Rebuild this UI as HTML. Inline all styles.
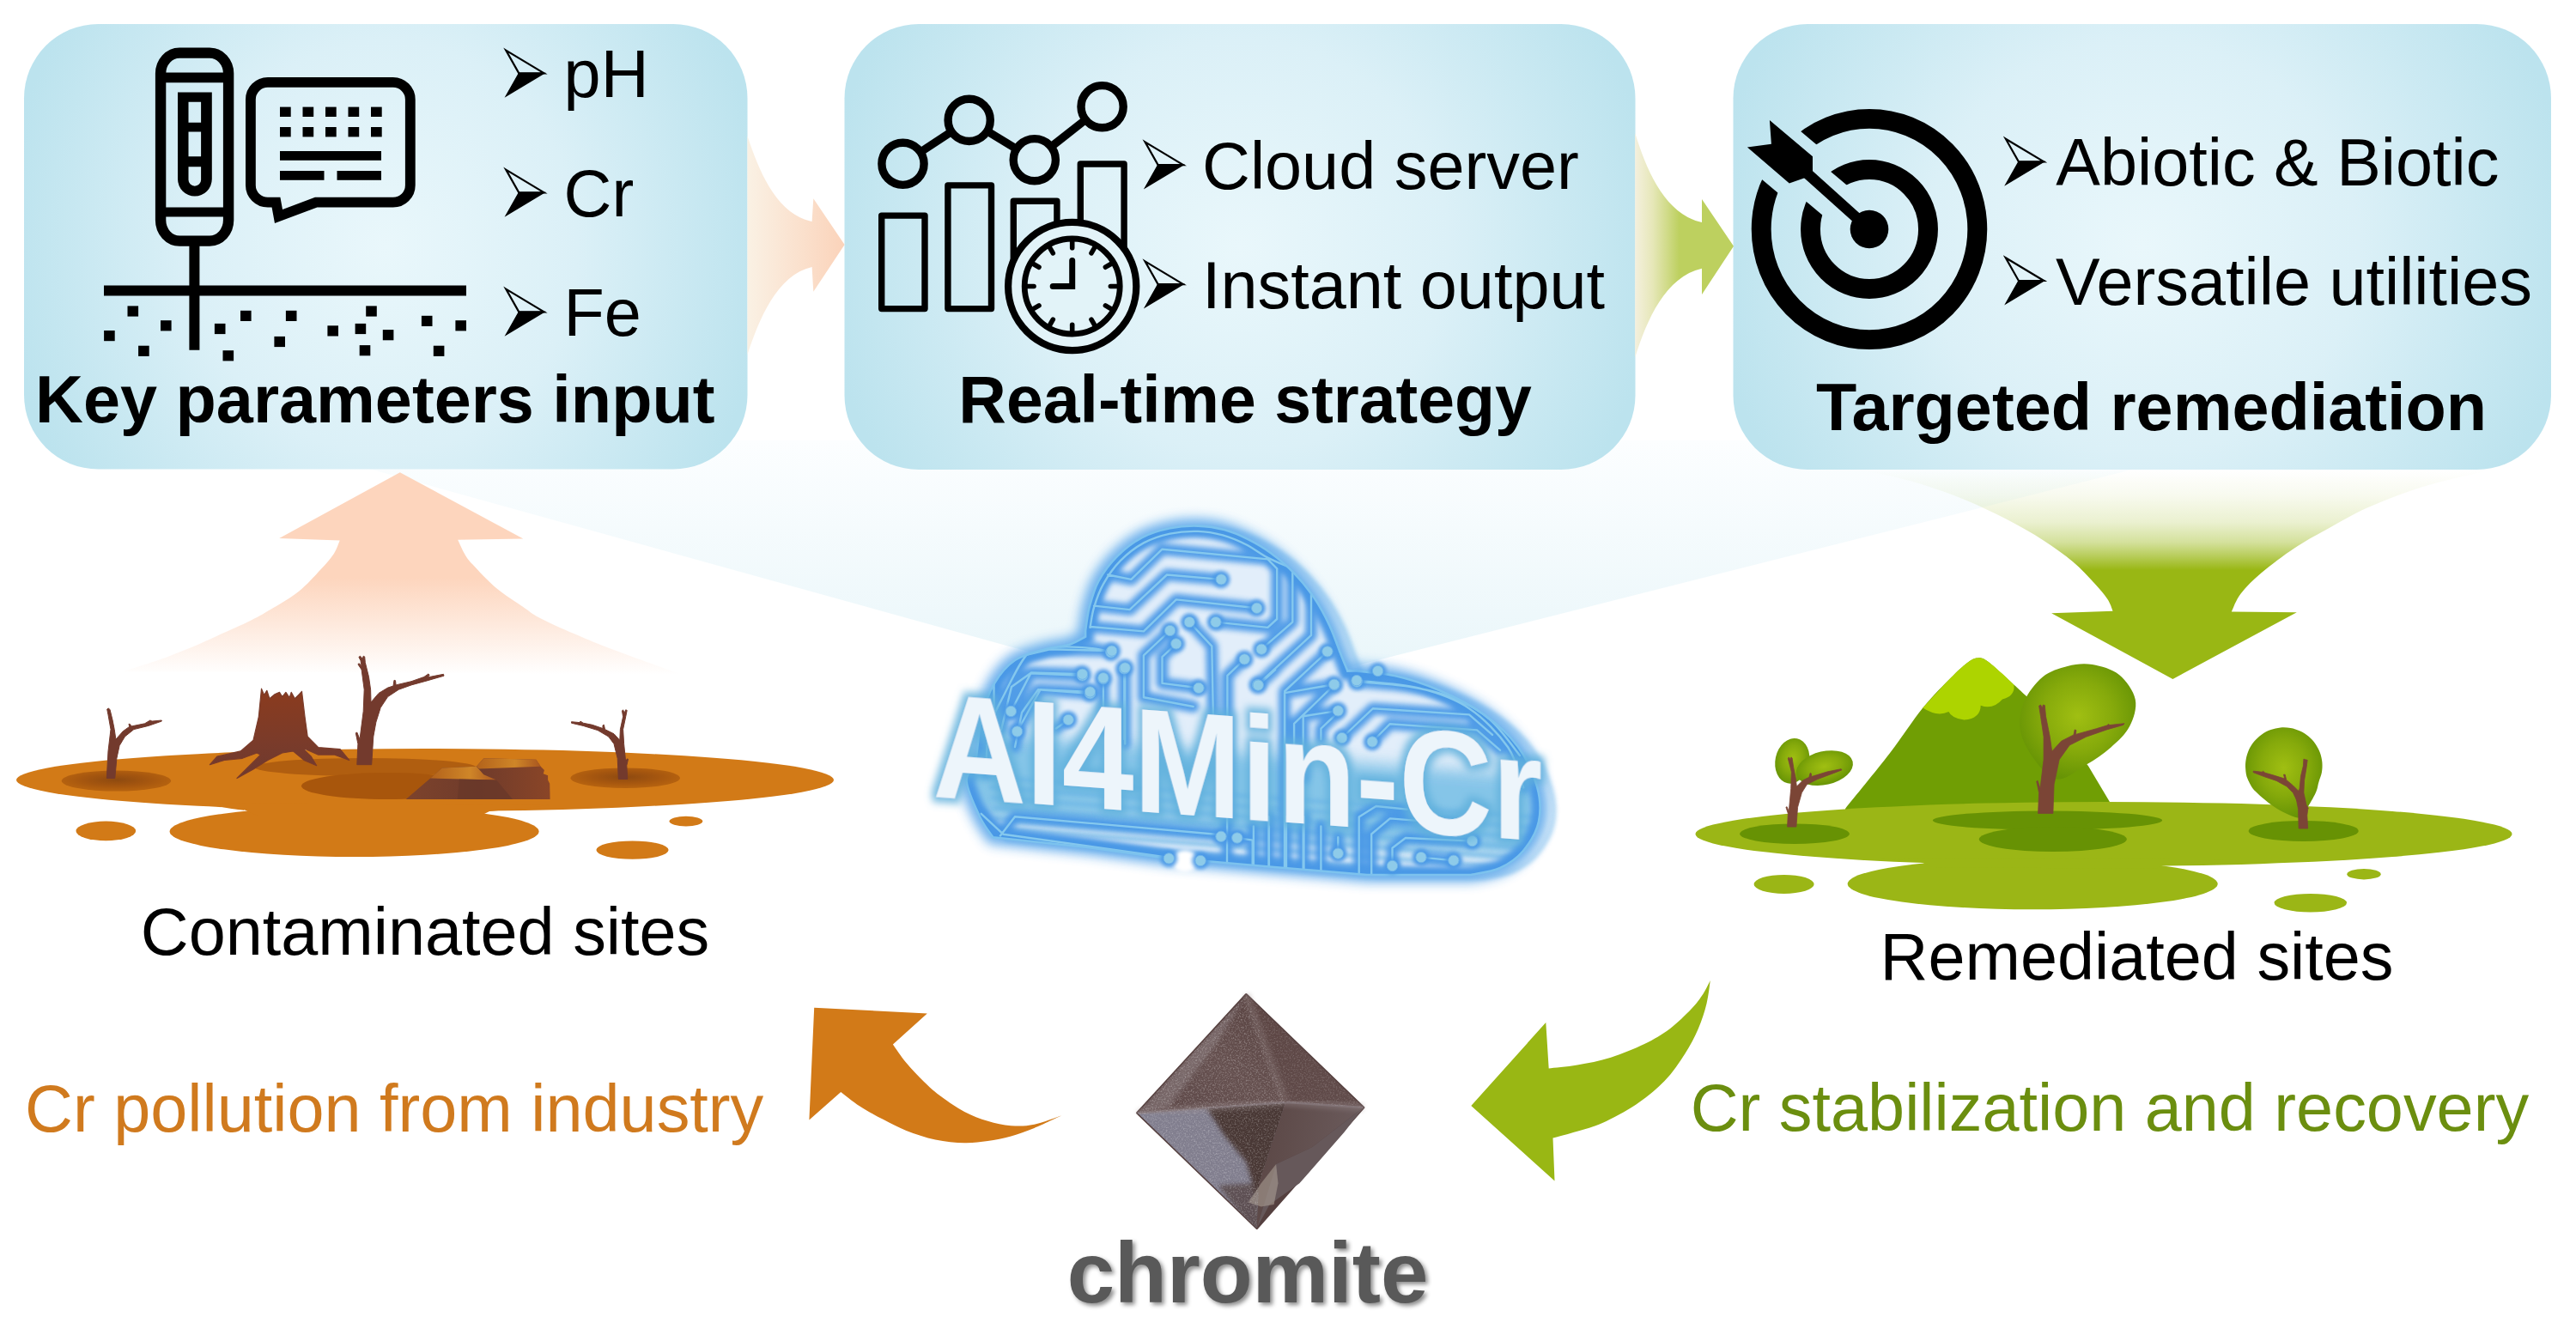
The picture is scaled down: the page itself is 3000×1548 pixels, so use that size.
<!DOCTYPE html>
<html lang="en"><head><meta charset="utf-8"><title>AI4Min-Cr graphical abstract</title>
<style>
html,body{margin:0;padding:0;background:#fff;}
body{width:3000px;height:1548px;overflow:hidden;}
svg{display:block;}
text{font-family:"Liberation Sans",sans-serif;}
.t{font-size:77.4px;fill:#000;}
.b{font-size:77.4px;font-weight:bold;fill:#000;}
</style></head><body>
<svg width="3000" height="1548" viewBox="0 0 3000 1548">
<!-- defs -->
<defs>
  <radialGradient id="boxg" cx="0.5" cy="0.5" r="0.53" gradientUnits="objectBoundingBox" gradientTransform="translate(0.5,0.5) scale(1,1.75) translate(-0.5,-0.5)">
    <stop offset="0" stop-color="#e9f7fb"/>
    <stop offset="0.5" stop-color="#dbf0f7"/>
    <stop offset="1" stop-color="#bce3ee"/>
  </radialGradient>
  <linearGradient id="peachR" x1="0" y1="0" x2="1" y2="0">
    <stop offset="0" stop-color="#faf1e4"/>
    <stop offset="1" stop-color="#fbd3ba"/>
  </linearGradient>
  <linearGradient id="greenR" x1="0" y1="0" x2="1" y2="0">
    <stop offset="0" stop-color="#f4f0de"/>
    <stop offset="0.18" stop-color="#e6e7b8"/>
    <stop offset="0.45" stop-color="#bdd05f"/>
    <stop offset="1" stop-color="#bdd05f"/>
  </linearGradient>
  <linearGradient id="peachUp" gradientUnits="userSpaceOnUse" x1="0" y1="550" x2="0" y2="786">
    <stop offset="0" stop-color="#fdd5bd"/>
    <stop offset="0.52" stop-color="#fdd5bd"/>
    <stop offset="1" stop-color="#fdd5bd" stop-opacity="0"/>
  </linearGradient>
  <linearGradient id="greenDown" gradientUnits="userSpaceOnUse" x1="0" y1="548" x2="0" y2="664">
    <stop offset="0" stop-color="#99b714" stop-opacity="0"/>
    <stop offset="0.25" stop-color="#99b714" stop-opacity="0.07"/>
    <stop offset="0.52" stop-color="#99b714" stop-opacity="0.2"/>
    <stop offset="0.72" stop-color="#99b714" stop-opacity="0.42"/>
    <stop offset="0.86" stop-color="#99b714" stop-opacity="0.7"/>
    <stop offset="1" stop-color="#99b714"/>
  </linearGradient>
  <linearGradient id="beamg" gradientUnits="userSpaceOnUse" x1="0" y1="513" x2="0" y2="818">
    <stop offset="0" stop-color="#fcfeff"/>
    <stop offset="1" stop-color="#e7f5f9"/>
  </linearGradient>
</defs>

<!-- beam -->
<polygon points="311,513 2617,513 1410,818" fill="url(#beamg)"/>

<!-- boxes -->
<rect x="28" y="28" width="842.5" height="518.5" rx="86.4" ry="86.4" fill="url(#boxg)"/>
<rect x="983.5" y="28" width="921" height="519" rx="86.4" ry="86.4" fill="url(#boxg)"/>
<rect x="2018.5" y="28" width="952.5" height="519" rx="86.4" ry="86.4" fill="url(#boxg)"/>

<!-- arrows -->
<!-- small peach arrow box1->box2 -->
<path d="M870.5,158.6 C884,200 905,250 945.6,258 L947.3,231.3 L983.6,285 L947.3,339.7 L945.6,311 C905,320 884,372 870.5,413 Z" fill="url(#peachR)"/>
<!-- small green arrow box2->box3 -->
<path d="M1904.2,155 C1918,200 1940,250 1982,259 L1982,232 L2019,286.7 L1982,343 L1982,312.7 C1940,322 1918,372 1904.2,416.5 Z" fill="url(#greenR)"/>
<!-- big peach up arrow -->
<path d="M465.8,550.2 L609.3,627.5 L533.2,628.8 C534.5,631.4 538.1,640.1 541.0,644.9 C543.8,649.7 544.1,650.6 550.3,657.3 C556.5,664.1 568.4,677.0 578.3,685.3 C588.1,693.6 601.0,701.3 609.3,707.0 C617.6,712.7 618.1,714.3 628.0,719.4 C637.8,724.6 655.4,732.4 668.3,738.1 C681.3,743.8 691.6,748.2 705.6,753.6 C719.6,759.0 737.7,765.4 752.2,770.7 C766.7,776.0 785.8,782.8 792.5,785.3 L143.5,782.2 C150.2,780.0 170.4,773.9 183.9,769.1 C197.3,764.4 212.3,758.5 224.2,753.6 C236.1,748.7 243.9,744.8 255.3,739.6 C266.7,734.5 282.2,727.7 292.5,722.5 C302.9,717.4 308.1,714.3 317.4,708.6 C326.7,702.9 339.1,695.9 348.4,688.4 C357.8,680.9 366.6,670.8 373.3,663.5 C380.0,656.3 385.1,650.6 388.8,644.9 C392.5,639.2 394.5,632.0 395.7,629.4 L325.2,626.9 Z" fill="url(#peachUp)"/>
<!-- big green down arrow -->
<path d="M2530.4,790.9 L2389.1,714.2 L2460.6,711.7 C2459.5,709.3 2458.0,703.1 2454.3,697.7 C2450.7,692.3 2445.5,686.3 2438.8,679.1 C2432.1,671.8 2423.8,662.5 2414.0,654.2 C2404.1,645.9 2392.8,637.7 2379.8,629.4 C2366.9,621.1 2351.3,612.3 2336.3,604.5 C2321.3,596.8 2305.3,589.3 2289.8,582.8 C2274.2,576.3 2258.7,570.6 2243.2,565.7 C2227.6,560.8 2210.0,556.3 2196.6,553.3 C2183.1,550.2 2168.1,548.4 2162.4,547.4 L2901.6,547.4 C2892.8,549.4 2865.3,555.2 2848.8,559.5 C2832.2,563.9 2817.7,568.0 2802.2,573.5 C2786.6,578.9 2771.1,584.9 2755.6,592.1 C2740.1,599.4 2723.0,609.2 2709.0,617.0 C2695.0,624.7 2684.2,630.4 2671.7,638.7 C2659.3,647.0 2644.8,657.8 2634.5,666.6 C2624.1,675.4 2615.6,683.8 2609.6,691.5 C2603.7,699.2 2600.6,709.1 2598.8,712.6 L2674.8,713.2 Z" fill="url(#greenDown)"/>

<!-- icon1 -->
<g fill="none" stroke="#000" stroke-width="12.4">
<rect x="187.1" y="61.6" width="79.0" height="219.0" rx="22" ry="24"/>
<line x1="187.1" y1="90.4" x2="266.1" y2="90.4" stroke-width="11.6"/>
<line x1="187.1" y1="247" x2="266.1" y2="247" stroke-width="11.2"/>
<line x1="226.4" y1="286" x2="226.4" y2="407.7" stroke-width="12"/>
<line x1="121" y1="338.5" x2="543" y2="338.5" stroke-width="12"/>
<path stroke-width="11.8" stroke-linejoin="miter" d="M311.9,95.9 H457.8 A20,20 0 0 1 477.8,115.9 V215.7 A20,20 0 0 1 457.8,235.7 H368 L324.5,252 L321.5,235.7 H311.9 A20,20 0 0 1 291.9,215.7 V115.9 A20,20 0 0 1 311.9,95.9 Z"/>
</g>
<g fill="#000">
<path fill-rule="evenodd" d="M207,107.6 H246.8 V208.6 A19.9,19.9 0 0 1 207,208.6 Z M219.5,118.7 H234.1 V142.8 H219.5 Z M219.5,153.5 H234.1 V182.3 H219.5 Z M219.5,194.2 H234.1 V209.4 A7.3,7.3 0 0 1 219.5,209.4 Z"/>
<rect x="326.0" y="124.6" width="12.7" height="11.4"/>
<rect x="352.5" y="124.6" width="12.7" height="11.4"/>
<rect x="379.0" y="124.6" width="12.7" height="11.4"/>
<rect x="405.5" y="124.6" width="12.7" height="11.4"/>
<rect x="432.0" y="124.6" width="12.7" height="11.4"/>
<rect x="326.0" y="148.0" width="12.7" height="11.4"/>
<rect x="352.5" y="148.0" width="12.7" height="11.4"/>
<rect x="379.0" y="148.0" width="12.7" height="11.4"/>
<rect x="405.5" y="148.0" width="12.7" height="11.4"/>
<rect x="432.0" y="148.0" width="12.7" height="11.4"/>
<rect x="326" y="176" width="118" height="10.8"/>
<rect x="326" y="199" width="51.5" height="10.8"/>
<rect x="392.5" y="199" width="51.5" height="10.8"/>
<rect x="148.5" y="356.4" width="12.6" height="12.2"/>
<rect x="187.0" y="373.2" width="12.6" height="12.2"/>
<rect x="121.1" y="385.0" width="12.6" height="12.2"/>
<rect x="161.1" y="402.7" width="12.6" height="12.2"/>
<rect x="249.9" y="376.9" width="12.6" height="12.2"/>
<rect x="280.0" y="361.8" width="12.6" height="12.2"/>
<rect x="259.5" y="408.2" width="12.6" height="12.2"/>
<rect x="332.9" y="361.8" width="12.6" height="12.2"/>
<rect x="319.4" y="391.9" width="12.6" height="12.2"/>
<rect x="426.2" y="356.4" width="12.6" height="12.2"/>
<rect x="381.4" y="379.3" width="12.6" height="12.2"/>
<rect x="413.6" y="376.9" width="12.6" height="12.2"/>
<rect x="445.8" y="384.1" width="12.6" height="12.2"/>
<rect x="418.7" y="402.1" width="12.6" height="12.2"/>
<rect x="490.9" y="367.8" width="12.6" height="12.2"/>
<rect x="530.4" y="373.2" width="12.6" height="12.2"/>
<rect x="504.8" y="402.7" width="12.6" height="12.2"/>
</g>
<!-- icon2 -->
<g fill="none" stroke="#000" stroke-linejoin="round" stroke-linecap="round">
<rect x="1026.7" y="251.1" width="50.3" height="108.5" stroke-width="7.4"/>
<rect x="1103.9" y="215.9" width="50.6" height="143.7" stroke-width="7.4"/>
<rect x="1180.3" y="234.3" width="50.6" height="125.3" stroke-width="7.4"/>
<rect x="1258.3" y="191.0" width="50.8" height="168.7" stroke-width="7.4"/>
<line x1="1072.0" y1="177.2" x2="1108.1" y2="153.4" stroke-width="9.4" stroke-linecap="butt"/>
<line x1="1149.7" y1="152.7" x2="1183.8" y2="173.4" stroke-width="9.4" stroke-linecap="butt"/>
<line x1="1224.1" y1="171.0" x2="1264.3" y2="139.4" stroke-width="9.4" stroke-linecap="butt"/>
<circle cx="1051.5" cy="190.8" r="24.6" stroke-width="9.4"/>
<circle cx="1128.7" cy="139.9" r="24.6" stroke-width="9.4"/>
<circle cx="1204.8" cy="186.2" r="24.6" stroke-width="9.4"/>
<circle cx="1283.6" cy="124.2" r="24.6" stroke-width="9.4"/>
<circle cx="1248.7" cy="333.5" r="74.6" stroke-width="8.2" fill="#e2f3f8"/>
<circle cx="1248.7" cy="333.5" r="55.5" stroke-width="6.8"/>
<line x1="1293.4" y1="333.5" x2="1301.8" y2="333.5" stroke-width="5.6"/>
<line x1="1287.4" y1="355.9" x2="1294.6" y2="360.1" stroke-width="5.6"/>
<line x1="1271.0" y1="372.2" x2="1275.2" y2="379.5" stroke-width="5.6"/>
<line x1="1248.7" y1="378.2" x2="1248.7" y2="386.6" stroke-width="5.6"/>
<line x1="1226.3" y1="372.2" x2="1222.1" y2="379.5" stroke-width="5.6"/>
<line x1="1210.0" y1="355.9" x2="1202.7" y2="360.1" stroke-width="5.6"/>
<line x1="1204.0" y1="333.5" x2="1195.6" y2="333.5" stroke-width="5.6"/>
<line x1="1210.0" y1="311.2" x2="1202.7" y2="307.0" stroke-width="5.6"/>
<line x1="1226.3" y1="294.8" x2="1222.1" y2="287.6" stroke-width="5.6"/>
<line x1="1248.7" y1="288.8" x2="1248.7" y2="280.4" stroke-width="5.6"/>
<line x1="1271.0" y1="294.8" x2="1275.2" y2="287.6" stroke-width="5.6"/>
<line x1="1287.4" y1="311.2" x2="1294.6" y2="307.0" stroke-width="5.6"/>
<path d="M1226.2,333.5 H1248.7 V303.5" stroke-width="7" stroke-linejoin="miter"/>
</g>
<!-- icon3 -->
<defs><mask id="tmask1" maskUnits="userSpaceOnUse" x="2000" y="100" width="360" height="340"><rect x="2000" y="100" width="360" height="340" fill="#fff"/><rect x="-260" y="-36" width="260" height="72" fill="#000" transform="translate(2177,267) rotate(40)"/></mask><mask id="tmask2" maskUnits="userSpaceOnUse" x="2000" y="100" width="360" height="340"><rect x="2000" y="100" width="360" height="340" fill="#fff"/><rect x="-260" y="-22.5" width="260" height="45" fill="#000" transform="translate(2177,267) rotate(40)"/></mask></defs>
<ellipse cx="2177" cy="267" rx="125.8" ry="128.6" stroke-width="22.9" fill="none" stroke="#000" mask="url(#tmask1)"/>
<ellipse cx="2177" cy="267" rx="68.5" ry="69.5" stroke-width="22.9" fill="none" stroke="#000" mask="url(#tmask2)"/>
<circle cx="2177" cy="267" r="22.3" fill="#000"/>
<line x1="2177" y1="267" x2="2098" y2="196" stroke="#000" stroke-width="12.5"/>
<polygon points="2060.9,140.1 2111,182.2 2111,203.9 2083.8,213.5 2034.9,171.4 2062.9,167.8" fill="#000"/>
<!-- text_top -->
<path d="M589.2,58.6 L633.7,85.3 L604.3,85.3 Z" fill="none" stroke="#000" stroke-width="2.2" stroke-linejoin="miter"/><path d="M604.3,85.3 L633.7,85.3 L589.2,112.0 Z" fill="#000" stroke="#000" stroke-width="1.2"/>
<path d="M589.2,197.6 L633.7,224.3 L604.3,224.3 Z" fill="none" stroke="#000" stroke-width="2.2" stroke-linejoin="miter"/><path d="M604.3,224.3 L633.7,224.3 L589.2,251.0 Z" fill="#000" stroke="#000" stroke-width="1.2"/>
<path d="M589.2,336.6 L633.7,363.3 L604.3,363.3 Z" fill="none" stroke="#000" stroke-width="2.2" stroke-linejoin="miter"/><path d="M604.3,363.3 L633.7,363.3 L589.2,390.0 Z" fill="#000" stroke="#000" stroke-width="1.2"/>
<path d="M1333.5,165.4 L1378.0,192.1 L1348.6,192.1 Z" fill="none" stroke="#000" stroke-width="2.2" stroke-linejoin="miter"/><path d="M1348.6,192.1 L1378.0,192.1 L1333.5,218.8 Z" fill="#000" stroke="#000" stroke-width="1.2"/>
<path d="M1333.5,304.4 L1378.0,331.1 L1348.6,331.1 Z" fill="none" stroke="#000" stroke-width="2.2" stroke-linejoin="miter"/><path d="M1348.6,331.1 L1378.0,331.1 L1333.5,357.8 Z" fill="#000" stroke="#000" stroke-width="1.2"/>
<path d="M2335.8,161.7 L2380.3,188.4 L2350.9,188.4 Z" fill="none" stroke="#000" stroke-width="2.2" stroke-linejoin="miter"/><path d="M2350.9,188.4 L2380.3,188.4 L2335.8,215.1 Z" fill="#000" stroke="#000" stroke-width="1.2"/>
<path d="M2335.8,300.3 L2380.3,327.0 L2350.9,327.0 Z" fill="none" stroke="#000" stroke-width="2.2" stroke-linejoin="miter"/><path d="M2350.9,327.0 L2380.3,327.0 L2335.8,353.7 Z" fill="#000" stroke="#000" stroke-width="1.2"/>
<text class="t" x="656.6" y="113.4">pH</text>
<text class="t" x="656.6" y="252.3">Cr</text>
<text class="t" x="656.6" y="391.2">Fe</text>
<text class="b" x="41.1" y="492.4">Key parameters input</text>
<text class="t" x="1400" y="220">Cloud server</text>
<text class="t" x="1400" y="359">Instant output</text>
<text class="b" style="font-size:77px" x="1116.3" y="492.2">Real-time strategy</text>
<text class="t" x="2394.3" y="215.8">Abiotic &amp; Biotic</text>
<text class="t" x="2394.1" y="354.5">Versatile utilities</text>
<text class="b" x="2114.9" y="501.2">Targeted remediation</text>
<!-- land_left -->
<defs>
<radialGradient id="lsh" cx="0.5" cy="0.45" r="0.5"><stop offset="0" stop-color="#8e4a10"/><stop offset="0.6" stop-color="#a5560f"/><stop offset="1" stop-color="#b4610f"/></radialGradient>
<linearGradient id="stumpg" x1="0" y1="0" x2="0" y2="1"><stop offset="0" stop-color="#8b3b1e"/><stop offset="0.6" stop-color="#7a3b2a"/><stop offset="1" stop-color="#6d3a30"/></linearGradient>
<linearGradient id="rockTop" x1="0" y1="0" x2="1" y2="0"><stop offset="0" stop-color="#b3621b"/><stop offset="0.6" stop-color="#cf8628"/><stop offset="1" stop-color="#a9561f"/></linearGradient>
<linearGradient id="rockF" x1="0" y1="0" x2="1" y2="0"><stop offset="0" stop-color="#7d432c"/><stop offset="0.5" stop-color="#6f3b2b"/><stop offset="1" stop-color="#8a4527"/></linearGradient>
</defs>
<g fill="#d27a17">
<ellipse cx="495" cy="908.5" rx="476" ry="36.5"/>
<ellipse cx="412.6" cy="968.5" rx="215" ry="29.5"/>
<ellipse cx="123.3" cy="967.9" rx="34.8" ry="11.3"/>
<ellipse cx="798.9" cy="956.6" rx="19.4" ry="5.9"/>
<ellipse cx="736.5" cy="990.1" rx="42.1" ry="10.7"/>
<path d="M230,935 Q290,946 284,943 L300,950 L560,950 L570,945 Q580,944 640,938 Z"/>
</g>
<ellipse cx="135.4" cy="909.6" rx="63.7" ry="12" fill="url(#lsh)"/>
<ellipse cx="728.2" cy="906.2" rx="63.7" ry="11.8" fill="url(#lsh)"/>
<ellipse cx="425" cy="893.5" rx="129" ry="10.5" fill="#b05e10"/>
<ellipse cx="451" cy="915.5" rx="100" ry="15.5" fill="#a8560c"/>
<polygon points="124.3,906.5 126.0,874.9 129.0,849.6 126.0,832.7 124.7,826.0 126.4,824.9 128.1,826.8 131.1,839.0 133.2,849.6 134.9,861.2 143.3,851.7 150.7,846.4 150.0,843.2 151.7,843.7 152.8,846.0 168.6,842.8 174.9,839.0 177.0,840.1 188.2,839.0 188.2,840.1 172.8,845.4 155.9,849.6 145.4,858.0 139.1,868.5 135.9,883.3 133.8,906.5" fill="#733a2d" stroke="#733a2d" stroke-width="1" stroke-linejoin="round"/>
<polygon points="304.5,802.2 307.6,809.5 310.8,804.3 313.9,813.7 320.3,808.5 325.5,806.4 328.7,811.6 332.9,806.4 337.1,812.7 339.2,806.4 343.4,813.7 348.7,808.5 351.5,805.3 355.0,834.8 358.2,858.0 370.8,870.6 396.1,872.7 406.7,885.4 389.8,879.1 370.8,879.1 356.1,872.7 354.0,873.2 362.4,881.2 368.7,891.7 354.0,885.4 341.3,874.9 328.7,877.0 311.8,885.4 295.0,895.9 276.0,906.5 290.8,891.7 303.4,879.1 299.2,877.0 282.3,883.3 261.3,885.4 244.4,890.7 252.8,881.2 280.2,874.9 295.0,862.2 301.3,834.8" fill="url(#stumpg)" stroke="#7a3b2a" stroke-width="1.2" stroke-linejoin="round"/>
<polygon points="415.8,890.7 416.9,866.4 414.3,853.8 415.8,853.1 419.0,861.2 423.2,828.5 424.2,803.2 421.1,780.0 416.9,773.7 418.3,772.7 421.1,775.8 420.0,769.5 417.9,765.3 419.6,764.2 422.1,767.4 423.2,764.2 424.7,764.9 425.3,771.6 429.5,788.5 431.6,803.2 432.0,818.0 441.1,807.4 451.6,801.1 458.0,799.0 459.0,792.3 460.5,792.7 461.1,797.9 479.0,793.7 493.8,788.5 499.0,784.9 500.1,786.4 498.0,788.9 516.5,785.3 517.0,787.2 498.0,792.7 479.0,797.9 464.3,803.2 451.6,811.6 443.2,824.3 437.9,841.1 434.8,858.0 432.7,890.7" fill="#733a2d" stroke="#733a2d" stroke-width="1" stroke-linejoin="round"/>
<polygon points="472.7,931.1 501.2,906.5 514.9,894.4 554.9,892.8 563.3,883.3 624.4,884.8 629.7,892.8 633.9,897.0 632.8,901.2 638.1,903.3 638.1,908.6 640.2,912.8 640.6,931.1" fill="url(#rockF)"/>
<polygon points="501.2,906.5 514.9,894.4 554.9,892.8 563.3,902.2 578.1,908.6" fill="url(#rockTop)"/>
<polygon points="563.3,883.3 624.4,884.8 629.7,892.8 558.0,895.5 554.9,892.8" fill="url(#rockTop)"/>
<polygon points="534.9,907.5 578.1,908.6 597.0,931.1 532.8,931.1" fill="#693829" opacity="0.8"/>
<polygon points="730.8,907.5 729.8,891.7 731.5,884.3 730.2,883.9 728.7,887.5 726.6,866.4 725.6,849.6 728.7,834.8 730.2,827.4 728.7,826.8 727.2,830.6 725.6,826.8 724.5,828.1 725.6,834.8 722.4,849.6 721.8,862.2 715.0,854.8 704.5,849.6 703.4,844.3 702.0,844.9 702.0,848.5 689.7,844.3 679.2,842.2 676.0,840.1 675.0,841.6 665.5,840.7 665.5,842.2 679.2,845.4 696.1,850.6 708.7,858.0 715.0,866.4 719.2,883.3 720.3,907.5" fill="#733a2d" stroke="#733a2d" stroke-width="1" stroke-linejoin="round"/>
<text class="t" x="163.8" y="1112">Contaminated sites</text>
<!-- land_right -->
<defs>
<radialGradient id="leafg" cx="0.5" cy="0.45" r="0.55"><stop offset="0" stop-color="#a0bf12"/><stop offset="0.55" stop-color="#86aa0b"/><stop offset="1" stop-color="#679405"/></radialGradient>
</defs>
<path d="M2149.0,941.9 C2157.6,931.2 2185.7,897.1 2200.7,877.6 C2215.8,858.1 2227.2,839.5 2239.3,824.6 C2251.3,809.8 2264.1,797.4 2273.0,788.5 C2281.8,779.6 2287.2,774.9 2292.2,771.2 C2297.2,767.5 2299.5,766.6 2303.1,766.4 C2306.7,766.1 2308.5,766.0 2313.9,769.7 C2319.3,773.4 2327.1,781.0 2335.6,788.5 C2344.0,796.1 2359.6,810.6 2364.5,815.0 L2431.9,892.0 L2457.1,934.2 L2457.1,966.7 L2149.0,966.7 Z" fill="#709e04"/>
<path d="M2239.3,824.6 C2244.9,818.6 2264.1,797.4 2273.0,788.5 C2281.8,779.6 2287.2,774.9 2292.2,771.2 C2297.2,767.5 2299.5,766.6 2303.1,766.4 C2306.7,766.1 2309.3,766.9 2313.9,769.7 C2318.5,772.6 2325.5,779.1 2330.8,783.7 C2336.0,788.3 2342.8,795.1 2345.2,797.4 Q2347.6,810.2 2332.0,814.5 Q2321.1,827.0 2306.7,821.7 Q2306.7,836.7 2287.4,838.6 Q2273.0,836.7 2269.4,829.0 Q2256.1,835.5 2239.3,824.6 Z" fill="#add400"/>
<g fill="#9bb616">
<ellipse cx="2450" cy="971.5" rx="475.5" ry="37.5"/>
<ellipse cx="2367.2" cy="1029.5" rx="215.5" ry="29.8"/>
<ellipse cx="2077.6" cy="1029.9" rx="35" ry="11"/>
<ellipse cx="2753" cy="1018.2" rx="19.7" ry="6.2"/>
<ellipse cx="2690.8" cy="1051.7" rx="42.2" ry="10.8"/>
<path d="M2190,1000 L2236,1003.5 L2250,1010 L2510,1012 L2521,1007 L2590,1001 Z"/>
</g>
<g fill="#679204">
<ellipse cx="2090" cy="971.2" rx="63.8" ry="11.8"/>
<ellipse cx="2384.5" cy="955.6" rx="133.7" ry="11"/>
<ellipse cx="2390.8" cy="977.5" rx="86" ry="14.5"/>
<ellipse cx="2682.7" cy="967.9" rx="64" ry="12"/>
</g>
<ellipse cx="2087.3" cy="886.3" rx="19.8" ry="26.6" fill="url(#leafg)" transform="rotate(12 2087.3 886.3)"/>
<ellipse cx="2124.9" cy="894.6" rx="33.6" ry="19.5" fill="url(#leafg)" transform="rotate(-13 2124.9 894.6)"/>
<polygon points="2081.6,963.1 2082.3,947.4 2079.9,940.2 2081.1,939.7 2083.3,945.0 2085.7,918.5 2086.4,899.3 2082.3,883.6 2083.3,881.9 2085.2,884.8 2085.9,881.9 2087.1,882.9 2088.8,894.4 2091.2,906.5 2092.4,916.1 2099.6,908.9 2106.9,905.3 2108.1,900.5 2109.3,900.9 2109.7,904.6 2128.5,898.8 2144.2,895.7 2144.9,896.9 2135.7,900.5 2116.5,907.7 2104.4,913.7 2098.4,923.3 2093.6,940.2 2091.9,963.1" fill="#7b4536" stroke="#7b4536" stroke-width="0.8" stroke-linejoin="round"/>
<path d="M2436.7,774.1 C2446.7,775.8 2459.6,779.3 2468.0,786.1 C2476.3,792.9 2484.8,805.0 2486.8,815.0 C2488.8,825.0 2484.8,837.1 2480.0,846.3 C2475.3,855.5 2466.8,863.0 2458.4,870.4 C2449.9,877.8 2439.9,884.6 2429.5,890.8 C2419.0,897.1 2405.8,908.7 2395.8,907.7 C2385.7,906.7 2376.4,894.2 2369.3,884.8 C2362.1,875.4 2354.9,862.3 2352.9,851.1 C2350.9,839.9 2352.9,827.8 2357.2,817.4 C2361.6,807.0 2370.5,795.4 2378.9,788.5 C2387.3,781.6 2398.2,778.4 2407.8,776.0 C2417.4,773.6 2426.7,772.4 2436.7,774.1 Z" fill="url(#leafg)"/>
<polygon points="2373.6,947.4 2374.6,923.3 2371.7,910.1 2373.1,909.4 2376.0,918.5 2380.1,884.8 2380.1,858.3 2376.5,834.3 2374.6,822.2 2376.5,821.0 2378.4,824.6 2379.4,821.0 2381.3,821.5 2382.5,834.3 2387.3,858.3 2389.7,875.2 2400.6,863.2 2415.0,855.9 2416.2,849.9 2417.9,850.6 2417.4,855.4 2441.5,848.7 2453.5,845.1 2455.9,843.4 2456.4,844.6 2474.0,842.7 2472.8,844.4 2453.5,849.9 2429.5,858.3 2410.2,868.0 2398.2,884.8 2392.1,913.7 2390.9,947.4" fill="#7b4536" stroke="#7b4536" stroke-width="0.8" stroke-linejoin="round"/>
<path d="M2617.7,907.4 C2615.7,903.0 2615.5,899.8 2615.2,895.9 C2614.8,892.1 2615.0,888.1 2615.7,884.3 C2616.4,880.5 2617.6,876.6 2619.2,873.1 C2620.8,869.6 2623.0,866.2 2625.5,863.3 C2628.0,860.3 2630.9,857.6 2634.1,855.4 C2637.3,853.1 2640.8,851.3 2644.5,850.0 C2648.1,848.6 2652.0,847.8 2655.9,847.4 C2659.7,847.1 2663.8,847.3 2667.6,847.9 C2671.4,848.6 2675.2,849.8 2678.7,851.5 C2682.2,853.1 2685.6,855.3 2688.6,857.7 C2691.5,860.2 2694.3,863.2 2696.5,866.4 C2698.7,869.5 2700.5,873.1 2701.9,876.7 C2703.2,880.4 2704.1,884.3 2704.4,888.1 C2704.7,892.0 2704.6,896.0 2703.9,899.8 C2703.2,903.6 2701.5,907.0 2700.4,911.0 C2699.2,914.9 2699.3,918.1 2696.9,923.3 C2694.5,928.6 2689.2,937.7 2686.0,942.6 C2682.9,947.5 2683.9,952.9 2678.1,952.7 C2672.3,952.5 2659.6,946.5 2651.1,941.4 C2642.6,936.3 2632.6,927.8 2627.0,922.1 C2621.5,916.5 2619.7,911.7 2617.7,907.4 Z" fill="url(#leafg)"/>
<polygon points="2677.1,965.0 2676.6,942.6 2674.0,929.4 2678.1,918.5 2679.5,904.1 2682.4,892.0 2682.9,884.1 2684.8,884.8 2687.2,885.3 2686.0,894.4 2683.6,908.9 2682.9,923.3 2686.0,937.8 2688.4,941.4 2687.7,942.6 2686.8,949.8 2687.7,965.0" fill="#7b4536" stroke="#7b4536" stroke-width="0.8" stroke-linejoin="round"/>
<polygon points="2675.2,933.0 2670.4,923.3 2663.2,916.1 2651.1,909.4 2636.7,904.6 2624.2,899.7 2624.2,898.1 2634.3,899.3 2635.5,898.3 2637.9,900.2 2646.3,902.6 2660.7,907.0 2659.5,902.2 2661.2,902.2 2662.7,908.4 2670.4,914.9 2678.8,923.3 2681.2,933.0" fill="#7b4536" stroke="#7b4536" stroke-width="0.8" stroke-linejoin="round"/>
<text class="t" x="2189.6" y="1140.5">Remediated sites</text>
<!-- cloud -->
<defs>
<filter id="cb1" x="-10%" y="-10%" width="120%" height="120%"><feGaussianBlur stdDeviation="7"/></filter>
<filter id="cb2" x="-10%" y="-10%" width="120%" height="120%"><feGaussianBlur stdDeviation="2.2"/></filter>
<filter id="cb3" x="-10%" y="-10%" width="120%" height="120%"><feGaussianBlur stdDeviation="5"/></filter>
<filter id="cb5" x="-10%" y="-10%" width="120%" height="120%"><feGaussianBlur stdDeviation="3"/></filter>
<filter id="cb4" x="-10%" y="-20%" width="120%" height="140%"><feGaussianBlur stdDeviation="9"/></filter>
<clipPath id="cclip"><path d="M1156.4,975.2 C1153.8,971.2 1146.1,962.1 1141.0,951.2 C1135.9,940.4 1126.5,921.0 1125.6,910.2 C1124.8,899.5 1133.1,899.5 1136.0,887.0 C1138.9,874.5 1139.3,850.2 1143.0,835.0 C1146.7,819.8 1151.5,807.0 1158.0,796.0 C1164.5,785.0 1172.0,775.7 1182.0,769.0 C1192.0,762.3 1207.5,759.0 1218.0,756.0 C1228.5,753.0 1237.3,753.4 1245.0,751.0 C1252.7,748.6 1260.9,743.3 1264.1,741.7 L1264.1,734.5 C1264.9,730.0 1266.1,717.0 1268.6,707.4 C1271.2,697.8 1274.1,686.6 1279.5,676.7 C1284.9,666.8 1292.7,656.2 1301.2,647.8 C1309.6,639.4 1319.8,631.5 1330.1,626.1 C1340.3,620.7 1351.7,617.5 1362.6,615.3 C1373.4,613.0 1384.5,612.3 1395.1,612.6 C1405.6,612.9 1416.2,614.5 1425.8,617.1 C1435.4,619.7 1443.9,623.4 1452.9,627.9 C1461.9,632.4 1471.0,637.6 1480.0,644.2 C1489.0,650.8 1498.7,658.9 1507.1,667.7 C1515.5,676.4 1523.6,686.3 1530.6,696.6 C1537.5,706.8 1543.5,718.3 1548.6,729.1 C1553.7,739.9 1557.8,752.9 1561.3,761.6 C1564.7,770.3 1568.0,778.2 1569.4,781.5 L1572.0,781.0 C1580.7,782.0 1606.7,783.2 1624.0,787.0 C1641.3,790.8 1658.7,796.5 1676.0,804.0 C1693.3,811.5 1712.7,821.0 1728.0,832.0 C1743.3,843.0 1757.7,856.0 1768.0,870.0 C1778.3,884.0 1786.0,901.5 1790.0,916.0 C1794.0,930.5 1794.7,944.5 1792.0,957.0 C1789.3,969.5 1781.5,982.0 1774.0,991.0 C1766.5,1000.0 1757.2,1006.3 1747.0,1011.0 C1736.8,1015.7 1718.7,1017.7 1713.0,1019.0 L1592.0,1019.0 L1484.0,1010.0 L1398.1,1002.5 L1361.3,999.9 L1267.0,987.0 L1156.4,975.2 Z"/></clipPath>
</defs>
<path d="M1156.4,975.2 C1153.8,971.2 1146.1,962.1 1141.0,951.2 C1135.9,940.4 1126.5,921.0 1125.6,910.2 C1124.8,899.5 1133.1,899.5 1136.0,887.0 C1138.9,874.5 1139.3,850.2 1143.0,835.0 C1146.7,819.8 1151.5,807.0 1158.0,796.0 C1164.5,785.0 1172.0,775.7 1182.0,769.0 C1192.0,762.3 1207.5,759.0 1218.0,756.0 C1228.5,753.0 1237.3,753.4 1245.0,751.0 C1252.7,748.6 1260.9,743.3 1264.1,741.7 L1264.1,734.5 C1264.9,730.0 1266.1,717.0 1268.6,707.4 C1271.2,697.8 1274.1,686.6 1279.5,676.7 C1284.9,666.8 1292.7,656.2 1301.2,647.8 C1309.6,639.4 1319.8,631.5 1330.1,626.1 C1340.3,620.7 1351.7,617.5 1362.6,615.3 C1373.4,613.0 1384.5,612.3 1395.1,612.6 C1405.6,612.9 1416.2,614.5 1425.8,617.1 C1435.4,619.7 1443.9,623.4 1452.9,627.9 C1461.9,632.4 1471.0,637.6 1480.0,644.2 C1489.0,650.8 1498.7,658.9 1507.1,667.7 C1515.5,676.4 1523.6,686.3 1530.6,696.6 C1537.5,706.8 1543.5,718.3 1548.6,729.1 C1553.7,739.9 1557.8,752.9 1561.3,761.6 C1564.7,770.3 1568.0,778.2 1569.4,781.5 L1572.0,781.0 C1580.7,782.0 1606.7,783.2 1624.0,787.0 C1641.3,790.8 1658.7,796.5 1676.0,804.0 C1693.3,811.5 1712.7,821.0 1728.0,832.0 C1743.3,843.0 1757.7,856.0 1768.0,870.0 C1778.3,884.0 1786.0,901.5 1790.0,916.0 C1794.0,930.5 1794.7,944.5 1792.0,957.0 C1789.3,969.5 1781.5,982.0 1774.0,991.0 C1766.5,1000.0 1757.2,1006.3 1747.0,1011.0 C1736.8,1015.7 1718.7,1017.7 1713.0,1019.0 L1592.0,1019.0 L1484.0,1010.0 L1398.1,1002.5 L1361.3,999.9 L1267.0,987.0 L1156.4,975.2 Z" fill="#d3e9f8" stroke="#8ec6ef" stroke-width="6" filter="url(#cb2)" opacity="0.55" transform="translate(16,3)"/>
<path d="M1156.4,975.2 C1153.8,971.2 1146.1,962.1 1141.0,951.2 C1135.9,940.4 1126.5,921.0 1125.6,910.2 C1124.8,899.5 1133.1,899.5 1136.0,887.0 C1138.9,874.5 1139.3,850.2 1143.0,835.0 C1146.7,819.8 1151.5,807.0 1158.0,796.0 C1164.5,785.0 1172.0,775.7 1182.0,769.0 C1192.0,762.3 1207.5,759.0 1218.0,756.0 C1228.5,753.0 1237.3,753.4 1245.0,751.0 C1252.7,748.6 1260.9,743.3 1264.1,741.7 L1264.1,734.5 C1264.9,730.0 1266.1,717.0 1268.6,707.4 C1271.2,697.8 1274.1,686.6 1279.5,676.7 C1284.9,666.8 1292.7,656.2 1301.2,647.8 C1309.6,639.4 1319.8,631.5 1330.1,626.1 C1340.3,620.7 1351.7,617.5 1362.6,615.3 C1373.4,613.0 1384.5,612.3 1395.1,612.6 C1405.6,612.9 1416.2,614.5 1425.8,617.1 C1435.4,619.7 1443.9,623.4 1452.9,627.9 C1461.9,632.4 1471.0,637.6 1480.0,644.2 C1489.0,650.8 1498.7,658.9 1507.1,667.7 C1515.5,676.4 1523.6,686.3 1530.6,696.6 C1537.5,706.8 1543.5,718.3 1548.6,729.1 C1553.7,739.9 1557.8,752.9 1561.3,761.6 C1564.7,770.3 1568.0,778.2 1569.4,781.5 L1572.0,781.0 C1580.7,782.0 1606.7,783.2 1624.0,787.0 C1641.3,790.8 1658.7,796.5 1676.0,804.0 C1693.3,811.5 1712.7,821.0 1728.0,832.0 C1743.3,843.0 1757.7,856.0 1768.0,870.0 C1778.3,884.0 1786.0,901.5 1790.0,916.0 C1794.0,930.5 1794.7,944.5 1792.0,957.0 C1789.3,969.5 1781.5,982.0 1774.0,991.0 C1766.5,1000.0 1757.2,1006.3 1747.0,1011.0 C1736.8,1015.7 1718.7,1017.7 1713.0,1019.0 L1592.0,1019.0 L1484.0,1010.0 L1398.1,1002.5 L1361.3,999.9 L1267.0,987.0 L1156.4,975.2 Z" fill="#8cc4f0" stroke="#5aa6ea" stroke-width="16" filter="url(#cb1)" opacity="0.95"/>
<path d="M1156.4,975.2 C1153.8,971.2 1146.1,962.1 1141.0,951.2 C1135.9,940.4 1126.5,921.0 1125.6,910.2 C1124.8,899.5 1133.1,899.5 1136.0,887.0 C1138.9,874.5 1139.3,850.2 1143.0,835.0 C1146.7,819.8 1151.5,807.0 1158.0,796.0 C1164.5,785.0 1172.0,775.7 1182.0,769.0 C1192.0,762.3 1207.5,759.0 1218.0,756.0 C1228.5,753.0 1237.3,753.4 1245.0,751.0 C1252.7,748.6 1260.9,743.3 1264.1,741.7 L1264.1,734.5 C1264.9,730.0 1266.1,717.0 1268.6,707.4 C1271.2,697.8 1274.1,686.6 1279.5,676.7 C1284.9,666.8 1292.7,656.2 1301.2,647.8 C1309.6,639.4 1319.8,631.5 1330.1,626.1 C1340.3,620.7 1351.7,617.5 1362.6,615.3 C1373.4,613.0 1384.5,612.3 1395.1,612.6 C1405.6,612.9 1416.2,614.5 1425.8,617.1 C1435.4,619.7 1443.9,623.4 1452.9,627.9 C1461.9,632.4 1471.0,637.6 1480.0,644.2 C1489.0,650.8 1498.7,658.9 1507.1,667.7 C1515.5,676.4 1523.6,686.3 1530.6,696.6 C1537.5,706.8 1543.5,718.3 1548.6,729.1 C1553.7,739.9 1557.8,752.9 1561.3,761.6 C1564.7,770.3 1568.0,778.2 1569.4,781.5 L1572.0,781.0 C1580.7,782.0 1606.7,783.2 1624.0,787.0 C1641.3,790.8 1658.7,796.5 1676.0,804.0 C1693.3,811.5 1712.7,821.0 1728.0,832.0 C1743.3,843.0 1757.7,856.0 1768.0,870.0 C1778.3,884.0 1786.0,901.5 1790.0,916.0 C1794.0,930.5 1794.7,944.5 1792.0,957.0 C1789.3,969.5 1781.5,982.0 1774.0,991.0 C1766.5,1000.0 1757.2,1006.3 1747.0,1011.0 C1736.8,1015.7 1718.7,1017.7 1713.0,1019.0 L1592.0,1019.0 L1484.0,1010.0 L1398.1,1002.5 L1361.3,999.9 L1267.0,987.0 L1156.4,975.2 Z" fill="#e2eefa"/>
<g clip-path="url(#cclip)">
<path d="M1085,850 L1800,905 L1800,1000 L1085,950 Z" fill="#7cc0e6" filter="url(#cb4)" opacity="0.9"/>
<path d="M1150.0,905.0 L1790.0,952.0 M1152.0,917.0 L1787.0,964.0 M1154.0,929.0 L1784.0,976.0 M1156.0,941.0 L1781.0,988.0 M1158.0,953.0 L1778.0,1000.0 M1160.0,965.0 L1775.0,1012.0 M1162.0,977.0 L1772.0,1024.0" fill="none" stroke="#6db6e6" stroke-width="5" opacity="0.7" filter="url(#cb2)"/>
<path d="M1290.3,669.5 L1317.4,674.9 L1353.5,639.7 L1476.4,651.4 L1487.2,662.3 L1487.2,721.0 L1476.4,730.9 L1415.9,724.6 M1274.1,705.6 L1315.6,710.1 L1359.0,669.5 L1422.2,674.9 M1269.5,730.0 L1331.9,735.4 L1369.8,698.4 L1463.7,708.3 M1505.3,660.4 L1505.3,724.6 L1469.1,756.2 M1527.0,685.7 L1527.0,739.9 L1464.6,797.7 M1545.9,758.9 L1496.2,805.0 L1496.2,933.2 L1496.0,1013.0 M1554.0,797.7 L1507.1,842.9 L1507.1,933.2 M1449.3,767.9 L1429.4,786.9 L1429.4,861.0 L1429.0,1006.0 M1385.2,724.6 L1411.3,752.6 L1413.2,851.9 M1362.6,734.5 L1331.9,763.4 L1331.9,812.2 L1389.7,823.0 M1369.8,749.9 L1353.5,765.2 L1353.5,795.9 L1396.0,801.3 M1309.3,778.8 L1309.3,861.0 M1284.9,790.5 L1284.9,851.9 M1260.5,786.9 L1200.0,784.2 L1178.0,800.0 L1166.0,850.0 M1269.5,807.7 L1209.0,803.2 L1190.0,830.0 L1182.0,870.0 M1569.4,781.5 L1604.6,781.5 M1177.4,828.5 L1200.9,783.4 L1260.5,785.2 M1184.6,852.0 L1211.7,803.2 L1269.5,805.9 M1284.9,789.7 L1284.9,848.4 M1310.2,777.9 L1310.2,866.4 M1294.8,758.1 L1222.6,756.3 L1177.4,767.1 L1157.5,787.0 L1157.5,830.3 M1244.2,838.4 L1229.8,848.4 M1465.3,798.1 L1485.2,780.0 M1553.8,797.2 L1496.0,807.1 L1496.0,1020.1 M1558.3,827.9 L1517.7,834.2 L1517.7,906.4 M1562.8,859.5 L1599.0,825.2 L1711.0,832.4 L1738.0,855.9 M1598.1,864.0 L1618.8,843.2 L1720.0,850.4 L1747.1,873.9 M1538.4,861.3 L1538.4,848.6 L1555.6,832.4 M1582.7,1020.1 L1582.7,951.6 L1602.6,939.0 L1638.7,942.6 M1597.2,1020.1 L1597.2,971.5 L1618.8,953.4 L1711.0,960.6 M1621.5,1008.5 L1621.5,987.7 L1636.9,976.0 L1714.6,979.6 M1655.0,998.6 L1692.9,1002.2 M1558.3,994.1 L1558.3,975.1 M1459.9,1020.1 L1459.9,962.4 M1477.9,1020.1 L1477.9,962.4 M1497.8,1020.1 L1497.8,962.4 M1517.7,1020.1 L1517.7,962.4 M1538.4,1020.1 L1538.4,962.4 M1182.0,951.2 L1416.0,971.7 L1422.0,974.3 M1182.0,951.2 L1164.9,973.4 M1142.7,947.8 L1168.3,971.7 L1356.2,998.2 M1440.8,976.0 L1458.7,978.6 L1458.7,1009.3 M1477.5,951.2 L1477.5,1012.7 M1498.0,951.2 L1498.0,1012.7 M1518.5,951.2 L1518.5,1012.7 M1269.5,730.9 C1270.3,727.0 1271.5,715.8 1274.1,707.4 C1276.6,699.0 1279.8,689.3 1284.9,680.3 C1290.0,671.3 1296.9,661.2 1304.8,653.2 C1312.6,645.2 1322.2,637.7 1331.9,632.4 C1341.5,627.2 1352.0,623.9 1362.6,621.6 C1373.1,619.4 1384.9,618.6 1395.1,618.9 C1405.3,619.2 1414.7,620.9 1424.0,623.4 C1433.3,626.0 1442.4,629.9 1451.1,634.3 C1459.8,638.6 1467.3,644.9 1476.4,649.6 C1485.4,654.3 1500.5,660.1 1505.3,662.3 M1293.9,759.8 C1290.3,759.0 1281.9,756.3 1272.3,755.3 C1262.6,754.2 1248.2,753.0 1236.1,753.5 C1224.1,753.9 1211.4,748.2 1200.0,758.0 C1188.6,767.7 1176.0,796.7 1168.0,812.0 C1160.0,827.3 1155.3,835.3 1152.0,850.0 C1148.7,864.7 1148.7,891.7 1148.0,900.0 M1580.2,794.1 C1590.2,795.0 1621.7,796.6 1640.0,799.5 C1658.3,802.5 1674.2,805.6 1690.0,812.0 C1705.8,818.4 1721.7,826.7 1735.0,838.0 C1748.3,849.3 1764.2,873.0 1770.0,880.0 M1580.0,792.6 C1592.2,794.1 1631.3,796.3 1653.2,801.7 C1675.0,807.1 1693.8,813.7 1711.0,825.2 C1728.1,836.6 1745.6,855.0 1756.1,870.3 C1766.6,885.7 1771.2,909.5 1774.2,917.3" fill="none" stroke="#4a98e6" stroke-width="14" stroke-linejoin="round" stroke-linecap="round" filter="url(#cb5)" opacity="0.95"/>
<path d="M1156.4,975.2 C1153.8,971.2 1146.1,962.1 1141.0,951.2 C1135.9,940.4 1126.5,921.0 1125.6,910.2 C1124.8,899.5 1133.1,899.5 1136.0,887.0 C1138.9,874.5 1139.3,850.2 1143.0,835.0 C1146.7,819.8 1151.5,807.0 1158.0,796.0 C1164.5,785.0 1172.0,775.7 1182.0,769.0 C1192.0,762.3 1207.5,759.0 1218.0,756.0 C1228.5,753.0 1237.3,753.4 1245.0,751.0 C1252.7,748.6 1260.9,743.3 1264.1,741.7 L1264.1,734.5 C1264.9,730.0 1266.1,717.0 1268.6,707.4 C1271.2,697.8 1274.1,686.6 1279.5,676.7 C1284.9,666.8 1292.7,656.2 1301.2,647.8 C1309.6,639.4 1319.8,631.5 1330.1,626.1 C1340.3,620.7 1351.7,617.5 1362.6,615.3 C1373.4,613.0 1384.5,612.3 1395.1,612.6 C1405.6,612.9 1416.2,614.5 1425.8,617.1 C1435.4,619.7 1443.9,623.4 1452.9,627.9 C1461.9,632.4 1471.0,637.6 1480.0,644.2 C1489.0,650.8 1498.7,658.9 1507.1,667.7 C1515.5,676.4 1523.6,686.3 1530.6,696.6 C1537.5,706.8 1543.5,718.3 1548.6,729.1 C1553.7,739.9 1557.8,752.9 1561.3,761.6 C1564.7,770.3 1568.0,778.2 1569.4,781.5 L1572.0,781.0 C1580.7,782.0 1606.7,783.2 1624.0,787.0 C1641.3,790.8 1658.7,796.5 1676.0,804.0 C1693.3,811.5 1712.7,821.0 1728.0,832.0 C1743.3,843.0 1757.7,856.0 1768.0,870.0 C1778.3,884.0 1786.0,901.5 1790.0,916.0 C1794.0,930.5 1794.7,944.5 1792.0,957.0 C1789.3,969.5 1781.5,982.0 1774.0,991.0 C1766.5,1000.0 1757.2,1006.3 1747.0,1011.0 C1736.8,1015.7 1718.7,1017.7 1713.0,1019.0 L1592.0,1019.0 L1484.0,1010.0 L1398.1,1002.5 L1361.3,999.9 L1267.0,987.0 L1156.4,975.2 Z" fill="none" stroke="#4a98e6" stroke-width="20" filter="url(#cb5)"/>
<path d="M1290.3,669.5 L1317.4,674.9 L1353.5,639.7 L1476.4,651.4 L1487.2,662.3 L1487.2,721.0 L1476.4,730.9 L1415.9,724.6 M1274.1,705.6 L1315.6,710.1 L1359.0,669.5 L1422.2,674.9 M1269.5,730.0 L1331.9,735.4 L1369.8,698.4 L1463.7,708.3 M1505.3,660.4 L1505.3,724.6 L1469.1,756.2 M1527.0,685.7 L1527.0,739.9 L1464.6,797.7 M1545.9,758.9 L1496.2,805.0 L1496.2,933.2 L1496.0,1013.0 M1554.0,797.7 L1507.1,842.9 L1507.1,933.2 M1449.3,767.9 L1429.4,786.9 L1429.4,861.0 L1429.0,1006.0 M1385.2,724.6 L1411.3,752.6 L1413.2,851.9 M1362.6,734.5 L1331.9,763.4 L1331.9,812.2 L1389.7,823.0 M1369.8,749.9 L1353.5,765.2 L1353.5,795.9 L1396.0,801.3 M1309.3,778.8 L1309.3,861.0 M1284.9,790.5 L1284.9,851.9 M1260.5,786.9 L1200.0,784.2 L1178.0,800.0 L1166.0,850.0 M1269.5,807.7 L1209.0,803.2 L1190.0,830.0 L1182.0,870.0 M1569.4,781.5 L1604.6,781.5 M1177.4,828.5 L1200.9,783.4 L1260.5,785.2 M1184.6,852.0 L1211.7,803.2 L1269.5,805.9 M1284.9,789.7 L1284.9,848.4 M1310.2,777.9 L1310.2,866.4 M1294.8,758.1 L1222.6,756.3 L1177.4,767.1 L1157.5,787.0 L1157.5,830.3 M1244.2,838.4 L1229.8,848.4 M1465.3,798.1 L1485.2,780.0 M1553.8,797.2 L1496.0,807.1 L1496.0,1020.1 M1558.3,827.9 L1517.7,834.2 L1517.7,906.4 M1562.8,859.5 L1599.0,825.2 L1711.0,832.4 L1738.0,855.9 M1598.1,864.0 L1618.8,843.2 L1720.0,850.4 L1747.1,873.9 M1538.4,861.3 L1538.4,848.6 L1555.6,832.4 M1582.7,1020.1 L1582.7,951.6 L1602.6,939.0 L1638.7,942.6 M1597.2,1020.1 L1597.2,971.5 L1618.8,953.4 L1711.0,960.6 M1621.5,1008.5 L1621.5,987.7 L1636.9,976.0 L1714.6,979.6 M1655.0,998.6 L1692.9,1002.2 M1558.3,994.1 L1558.3,975.1 M1459.9,1020.1 L1459.9,962.4 M1477.9,1020.1 L1477.9,962.4 M1497.8,1020.1 L1497.8,962.4 M1517.7,1020.1 L1517.7,962.4 M1538.4,1020.1 L1538.4,962.4 M1182.0,951.2 L1416.0,971.7 L1422.0,974.3 M1182.0,951.2 L1164.9,973.4 M1142.7,947.8 L1168.3,971.7 L1356.2,998.2 M1440.8,976.0 L1458.7,978.6 L1458.7,1009.3 M1477.5,951.2 L1477.5,1012.7 M1498.0,951.2 L1498.0,1012.7 M1518.5,951.2 L1518.5,1012.7 M1269.5,730.9 C1270.3,727.0 1271.5,715.8 1274.1,707.4 C1276.6,699.0 1279.8,689.3 1284.9,680.3 C1290.0,671.3 1296.9,661.2 1304.8,653.2 C1312.6,645.2 1322.2,637.7 1331.9,632.4 C1341.5,627.2 1352.0,623.9 1362.6,621.6 C1373.1,619.4 1384.9,618.6 1395.1,618.9 C1405.3,619.2 1414.7,620.9 1424.0,623.4 C1433.3,626.0 1442.4,629.9 1451.1,634.3 C1459.8,638.6 1467.3,644.9 1476.4,649.6 C1485.4,654.3 1500.5,660.1 1505.3,662.3 M1293.9,759.8 C1290.3,759.0 1281.9,756.3 1272.3,755.3 C1262.6,754.2 1248.2,753.0 1236.1,753.5 C1224.1,753.9 1211.4,748.2 1200.0,758.0 C1188.6,767.7 1176.0,796.7 1168.0,812.0 C1160.0,827.3 1155.3,835.3 1152.0,850.0 C1148.7,864.7 1148.7,891.7 1148.0,900.0 M1580.2,794.1 C1590.2,795.0 1621.7,796.6 1640.0,799.5 C1658.3,802.5 1674.2,805.6 1690.0,812.0 C1705.8,818.4 1721.7,826.7 1735.0,838.0 C1748.3,849.3 1764.2,873.0 1770.0,880.0 M1580.0,792.6 C1592.2,794.1 1631.3,796.3 1653.2,801.7 C1675.0,807.1 1693.8,813.7 1711.0,825.2 C1728.1,836.6 1745.6,855.0 1756.1,870.3 C1766.6,885.7 1771.2,909.5 1774.2,917.3" fill="none" stroke="#84c8ee" stroke-width="2.4" stroke-linejoin="round" stroke-linecap="round"/>
</g>
<path d="M1156.4,975.2 C1153.8,971.2 1146.1,962.1 1141.0,951.2 C1135.9,940.4 1126.5,921.0 1125.6,910.2 C1124.8,899.5 1133.1,899.5 1136.0,887.0 C1138.9,874.5 1139.3,850.2 1143.0,835.0 C1146.7,819.8 1151.5,807.0 1158.0,796.0 C1164.5,785.0 1172.0,775.7 1182.0,769.0 C1192.0,762.3 1207.5,759.0 1218.0,756.0 C1228.5,753.0 1237.3,753.4 1245.0,751.0 C1252.7,748.6 1260.9,743.3 1264.1,741.7 L1264.1,734.5 C1264.9,730.0 1266.1,717.0 1268.6,707.4 C1271.2,697.8 1274.1,686.6 1279.5,676.7 C1284.9,666.8 1292.7,656.2 1301.2,647.8 C1309.6,639.4 1319.8,631.5 1330.1,626.1 C1340.3,620.7 1351.7,617.5 1362.6,615.3 C1373.4,613.0 1384.5,612.3 1395.1,612.6 C1405.6,612.9 1416.2,614.5 1425.8,617.1 C1435.4,619.7 1443.9,623.4 1452.9,627.9 C1461.9,632.4 1471.0,637.6 1480.0,644.2 C1489.0,650.8 1498.7,658.9 1507.1,667.7 C1515.5,676.4 1523.6,686.3 1530.6,696.6 C1537.5,706.8 1543.5,718.3 1548.6,729.1 C1553.7,739.9 1557.8,752.9 1561.3,761.6 C1564.7,770.3 1568.0,778.2 1569.4,781.5 L1572.0,781.0 C1580.7,782.0 1606.7,783.2 1624.0,787.0 C1641.3,790.8 1658.7,796.5 1676.0,804.0 C1693.3,811.5 1712.7,821.0 1728.0,832.0 C1743.3,843.0 1757.7,856.0 1768.0,870.0 C1778.3,884.0 1786.0,901.5 1790.0,916.0 C1794.0,930.5 1794.7,944.5 1792.0,957.0 C1789.3,969.5 1781.5,982.0 1774.0,991.0 C1766.5,1000.0 1757.2,1006.3 1747.0,1011.0 C1736.8,1015.7 1718.7,1017.7 1713.0,1019.0 L1592.0,1019.0 L1484.0,1010.0 L1398.1,1002.5 L1361.3,999.9 L1267.0,987.0 L1156.4,975.2 Z" fill="none" stroke="#7cc2ee" stroke-width="2.6"/>
<ellipse cx="1380" cy="1003" rx="15" ry="13" fill="#fff" filter="url(#cb2)"/>
<g fill="#4a98e6" filter="url(#cb2)" opacity="0.9">
<circle cx="1415.9" cy="724.6" r="10"/>
<circle cx="1422.2" cy="674.9" r="10"/>
<circle cx="1463.7" cy="708.3" r="10"/>
<circle cx="1469.1" cy="756.2" r="10"/>
<circle cx="1464.6" cy="797.7" r="10"/>
<circle cx="1545.9" cy="758.9" r="10"/>
<circle cx="1554.0" cy="797.7" r="10"/>
<circle cx="1449.3" cy="767.9" r="10"/>
<circle cx="1385.2" cy="724.6" r="10"/>
<circle cx="1362.6" cy="734.5" r="10"/>
<circle cx="1369.8" cy="749.9" r="10"/>
<circle cx="1396.0" cy="801.3" r="10"/>
<circle cx="1293.9" cy="759.8" r="10"/>
<circle cx="1309.3" cy="778.8" r="10"/>
<circle cx="1284.9" cy="790.5" r="10"/>
<circle cx="1260.5" cy="786.9" r="10"/>
<circle cx="1269.5" cy="807.7" r="10"/>
<circle cx="1604.6" cy="781.5" r="10"/>
<circle cx="1580.2" cy="794.1" r="10"/>
<circle cx="1177.4" cy="828.5" r="10"/>
<circle cx="1260.5" cy="785.2" r="10"/>
<circle cx="1184.6" cy="852.0" r="10"/>
<circle cx="1269.5" cy="805.9" r="10"/>
<circle cx="1284.9" cy="789.7" r="10"/>
<circle cx="1310.2" cy="777.9" r="10"/>
<circle cx="1294.8" cy="758.1" r="10"/>
<circle cx="1244.2" cy="838.4" r="10"/>
<circle cx="1465.3" cy="798.1" r="10"/>
<circle cx="1553.8" cy="797.2" r="10"/>
<circle cx="1558.3" cy="827.9" r="10"/>
<circle cx="1580.0" cy="792.6" r="10"/>
<circle cx="1562.8" cy="859.5" r="10"/>
<circle cx="1598.1" cy="864.0" r="10"/>
<circle cx="1621.5" cy="1008.5" r="10"/>
<circle cx="1714.6" cy="979.6" r="10"/>
<circle cx="1655.0" cy="998.6" r="10"/>
<circle cx="1692.9" cy="1002.2" r="10"/>
<circle cx="1558.3" cy="994.1" r="10"/>
<circle cx="1422.0" cy="974.3" r="10"/>
<circle cx="1440.8" cy="976.0" r="10"/>
<circle cx="1361.3" cy="999.9" r="10"/>
<circle cx="1398.1" cy="1002.5" r="10"/>
</g>
<g fill="#8ecbe9" stroke="#6db3ea" stroke-width="1">
<circle cx="1415.9" cy="724.6" r="6.2"/>
<circle cx="1422.2" cy="674.9" r="6.2"/>
<circle cx="1463.7" cy="708.3" r="6.2"/>
<circle cx="1469.1" cy="756.2" r="6.2"/>
<circle cx="1464.6" cy="797.7" r="6.2"/>
<circle cx="1545.9" cy="758.9" r="6.2"/>
<circle cx="1554.0" cy="797.7" r="6.2"/>
<circle cx="1449.3" cy="767.9" r="6.2"/>
<circle cx="1385.2" cy="724.6" r="6.2"/>
<circle cx="1362.6" cy="734.5" r="6.2"/>
<circle cx="1369.8" cy="749.9" r="6.2"/>
<circle cx="1396.0" cy="801.3" r="6.2"/>
<circle cx="1293.9" cy="759.8" r="6.2"/>
<circle cx="1309.3" cy="778.8" r="6.2"/>
<circle cx="1284.9" cy="790.5" r="6.2"/>
<circle cx="1260.5" cy="786.9" r="6.2"/>
<circle cx="1269.5" cy="807.7" r="6.2"/>
<circle cx="1604.6" cy="781.5" r="6.2"/>
<circle cx="1580.2" cy="794.1" r="6.2"/>
<circle cx="1177.4" cy="828.5" r="6.2"/>
<circle cx="1260.5" cy="785.2" r="6.2"/>
<circle cx="1184.6" cy="852.0" r="6.2"/>
<circle cx="1269.5" cy="805.9" r="6.2"/>
<circle cx="1284.9" cy="789.7" r="6.2"/>
<circle cx="1310.2" cy="777.9" r="6.2"/>
<circle cx="1294.8" cy="758.1" r="6.2"/>
<circle cx="1244.2" cy="838.4" r="6.2"/>
<circle cx="1465.3" cy="798.1" r="6.2"/>
<circle cx="1553.8" cy="797.2" r="6.2"/>
<circle cx="1558.3" cy="827.9" r="6.2"/>
<circle cx="1580.0" cy="792.6" r="6.2"/>
<circle cx="1562.8" cy="859.5" r="6.2"/>
<circle cx="1598.1" cy="864.0" r="6.2"/>
<circle cx="1621.5" cy="1008.5" r="6.2"/>
<circle cx="1714.6" cy="979.6" r="6.2"/>
<circle cx="1655.0" cy="998.6" r="6.2"/>
<circle cx="1692.9" cy="1002.2" r="6.2"/>
<circle cx="1558.3" cy="994.1" r="6.2"/>
<circle cx="1422.0" cy="974.3" r="6.2"/>
<circle cx="1440.8" cy="976.0" r="6.2"/>
<circle cx="1361.3" cy="999.9" r="6.2"/>
<circle cx="1398.1" cy="1002.5" r="6.2"/>
</g>
<defs><filter id="tglow" x="-10%" y="-30%" width="120%" height="160%"><feMorphology in="SourceAlpha" operator="dilate" radius="6" result="d"/><feGaussianBlur in="d" stdDeviation="5" result="b"/><feFlood flood-color="#5fb0dc" flood-opacity="0.85"/><feComposite in2="b" operator="in" result="g"/><feMerge><feMergeNode in="g"/><feMergeNode in="SourceGraphic"/></feMerge></filter></defs>
<text transform="translate(1086.5,927.5) skewY(4.21) scale(0.874,1)" x="0" y="0" font-size="172" font-weight="bold" fill="#edf5fb" filter="url(#tglow)">AI4Min-Cr</text>
<!-- bottom -->
<path d="M948.2,1173.7 L1079.8,1180.5 L1039.9,1216.4 C1042.5,1220.0 1049.5,1230.8 1055.5,1238.1 C1061.4,1245.3 1069.0,1253.2 1075.8,1259.7 C1082.6,1266.3 1088.2,1271.5 1096.1,1277.3 C1104.0,1283.2 1114.2,1290.2 1123.2,1294.9 C1132.2,1299.7 1141.3,1303.1 1150.3,1305.8 C1159.3,1308.5 1168.4,1310.5 1177.4,1311.2 C1186.4,1311.9 1194.5,1311.9 1204.5,1309.8 C1214.4,1307.8 1231.6,1300.8 1237.0,1299.0 C1231.6,1301.5 1214.4,1309.8 1204.5,1313.9 C1194.5,1318.0 1186.4,1320.9 1177.4,1323.4 C1168.4,1325.9 1159.3,1327.8 1150.3,1329.1 C1141.3,1330.4 1133.4,1331.5 1123.2,1331.3 C1113.0,1331.0 1100.6,1329.9 1089.3,1327.5 C1078.0,1325.1 1065.6,1320.8 1055.5,1316.9 C1045.3,1312.9 1037.4,1308.5 1028.4,1303.8 C1019.3,1299.0 1009.5,1293.8 1001.3,1288.4 C993.1,1283.1 982.9,1274.7 979.2,1271.9 L942.4,1304.4 Z" fill="#d27a18"/>
<path d="M1713.3,1288.0 L1800.3,1191.0 L1803.7,1244.4 C1809.2,1243.8 1824.8,1242.6 1836.9,1240.5 C1849.0,1238.4 1863.0,1235.8 1876.0,1231.7 C1889.1,1227.6 1903.7,1221.6 1915.1,1216.1 C1926.5,1210.5 1935.3,1205.3 1944.5,1198.5 C1953.6,1191.6 1963.4,1181.8 1969.9,1175.0 C1976.4,1168.1 1979.9,1162.9 1983.6,1157.4 C1987.2,1151.9 1990.4,1144.7 1991.8,1142.1 C1991.1,1146.6 1989.8,1159.7 1987.5,1169.1 C1985.2,1178.5 1982.0,1188.7 1977.7,1198.5 C1973.5,1208.2 1968.6,1217.7 1962.1,1227.8 C1955.6,1237.9 1948.1,1249.3 1938.6,1259.1 C1929.2,1268.9 1917.4,1278.3 1905.4,1286.5 C1893.3,1294.6 1877.7,1302.8 1866.2,1308.0 C1854.8,1313.2 1846.5,1314.8 1836.9,1317.8 C1827.3,1320.7 1813.3,1324.3 1808.5,1325.6 L1810.5,1375.5 Z" fill="#99b714"/>
<defs>
<filter id="speck" x="-5%" y="-5%" width="110%" height="110%">
  <feTurbulence type="fractalNoise" baseFrequency="0.55" numOctaves="2" seed="7" result="n"/>
  <feColorMatrix in="n" type="matrix" values="0 0 0 0 1  0 0 0 0 1  0 0 0 0 1  1.6 0 0 0 -0.75" result="a"/>
  <feComposite in="a" in2="SourceGraphic" operator="in"/>
</filter>
<linearGradient id="cTL" x1="0" y1="1" x2="1" y2="0"><stop offset="0" stop-color="#5b4646"/><stop offset="0.5" stop-color="#665150"/><stop offset="1" stop-color="#56403e"/></linearGradient>
<linearGradient id="cTR" x1="0" y1="0" x2="1" y2="1"><stop offset="0" stop-color="#5c4543"/><stop offset="1" stop-color="#614c4b"/></linearGradient>
<linearGradient id="cBL" x1="0" y1="0" x2="1" y2="0.3"><stop offset="0" stop-color="#858393"/><stop offset="0.45" stop-color="#7c7785"/><stop offset="0.62" stop-color="#4d3b39"/><stop offset="1" stop-color="#4a3735"/></linearGradient>
<linearGradient id="cBR" x1="0" y1="0" x2="1" y2="0.2"><stop offset="0" stop-color="#5a4644"/><stop offset="1" stop-color="#6b5b5c"/></linearGradient>
</defs>
<defs><filter id="bl2"><feGaussianBlur stdDeviation="2.5"/></filter><clipPath id="cBLc"><polygon points="1324.7,1296.3 1497.2,1283.9 1466.2,1378.3 1463.7,1430.4"/></clipPath><clipPath id="cTLc"><polygon points="1451.3,1158.6 1324.7,1296.3 1497.2,1283.9"/></clipPath></defs>
<g stroke-linejoin="round">
<polygon points="1451.3,1158.6 1324.7,1296.3 1463.7,1430.4 1587.8,1290.1" fill="#55403f" stroke="#55403f" stroke-width="3"/>
<polygon points="1451.3,1158.6 1324.7,1296.3 1497.2,1283.9" fill="url(#cTL)"/>
<g clip-path="url(#cTLc)"><polygon points="1451.3,1158.6 1324.7,1296.3 1361.9,1288.9 1419.0,1211.9" fill="#8b7e80" opacity="0.55" filter="url(#bl2)"/></g>
<polygon points="1451.3,1158.6 1497.2,1283.9 1587.8,1290.1" fill="url(#cTR)"/>
<polygon points="1324.7,1296.3 1497.2,1283.9 1466.2,1378.3 1463.7,1430.4" fill="#817e8e"/>
<g clip-path="url(#cBLc)"><polygon points="1404.1,1288.9 1503.4,1279.0 1473.6,1380.7 1462.5,1393.2 1451.3,1353.4 1426.5,1323.6" fill="#4a3836" filter="url(#bl2)"/><polygon points="1419.0,1380.7 1463.7,1378.3 1468.7,1435.4 1453.8,1427.9" fill="#4f3d3b" opacity="0.7" filter="url(#bl2)"/></g>
<polygon points="1497.2,1283.9 1587.8,1290.1 1528.3,1336.1 1486.1,1355.9 1463.7,1430.4 1466.2,1378.3" fill="url(#cBR)"/>
<polygon points="1587.8,1290.1 1565.5,1318.7 1513.4,1378.3 1478.6,1403.1 1463.7,1430.4 1486.1,1355.9 1528.3,1336.1" fill="#66585a"/>
<polygon points="1486.1,1355.9 1488.5,1378.3 1483.6,1403.1 1468.7,1405.6 1453.8,1400.6 1468.7,1378.3" fill="#a89d92" opacity="0.6"/>
<polyline points="1324.7,1296.3 1497.2,1283.9 1587.8,1290.1" fill="none" stroke="#9a8c8e" stroke-width="9" opacity="0.35" filter="url(#bl2)"/>
<polyline points="1451.3,1158.6 1497.2,1283.9" fill="none" stroke="#8d7d7d" stroke-width="9" opacity="0.35" filter="url(#bl2)"/>
<polyline points="1324.7,1296.3 1497.2,1283.9 1587.8,1290.1" fill="none" stroke="#85777a" stroke-width="2.5" opacity="0.8"/>
<polyline points="1451.3,1158.6 1497.2,1283.9" fill="none" stroke="#6e5a59" stroke-width="2.5" opacity="0.8"/>
<polygon points="1451.3,1158.6 1324.7,1296.3 1497.2,1283.9" fill="#b3a8ad" filter="url(#speck)" opacity="0.5"/>
<polygon points="1324.7,1296.3 1497.2,1283.9 1466.2,1378.3 1463.7,1430.4" fill="#3f3133" filter="url(#speck)" opacity="0.45"/>
<polygon points="1451.3,1158.6 1497.2,1283.9 1587.8,1290.1" fill="#8d7c7c" filter="url(#speck)" opacity="0.3"/>
</g>
<text x="1242.7" y="1517" font-size="99.6" font-weight="bold" fill="#595959" style="filter:drop-shadow(3px 3px 2.5px rgba(0,0,0,0.45))">chromite</text>
<text class="t" x="29.1" y="1317.9" style="fill:#d07a1e">Cr pollution from industry</text>
<text class="t" x="1968.7" y="1316.9" style="fill:#6b8e0f">Cr stabilization and recovery</text>
</svg>
</body></html>
